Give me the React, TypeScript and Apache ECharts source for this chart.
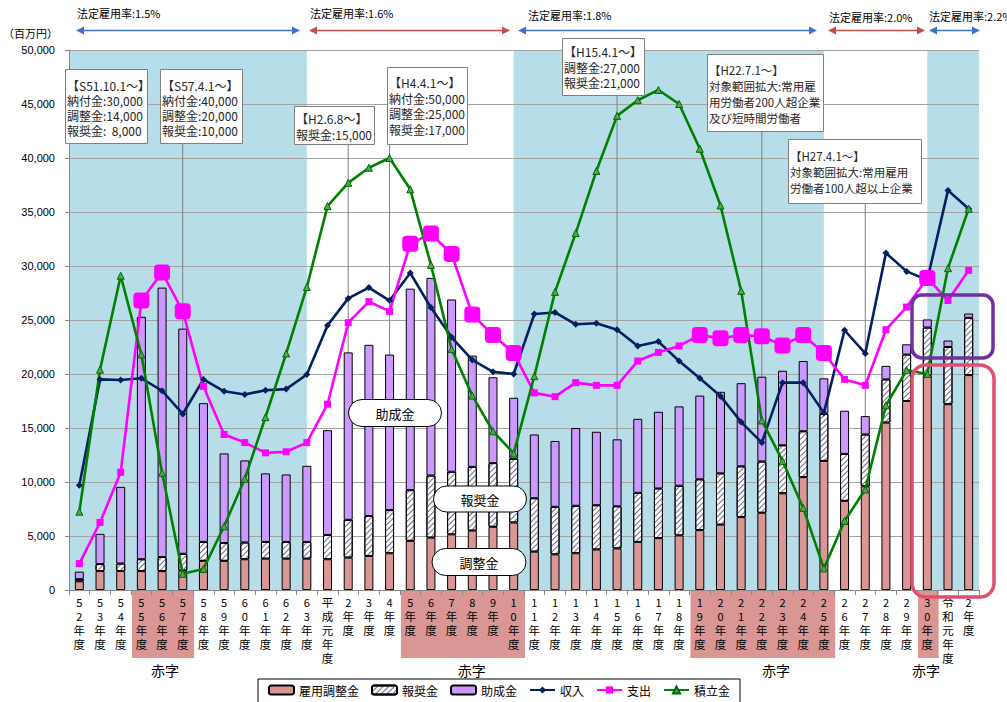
import React, { useEffect, useRef } from 'react';
import * as echarts from 'echarts';

// ---- data (百万円) ----
const categories = [
  '52年度', '53年度', '54年度', '55年度', '56年度', '57年度', '58年度', '59年度', '60年度', '61年度', '62年度', '63年度',
  '平成元年度', '2年度', '3年度', '4年度', '5年度', '6年度', '7年度', '8年度', '9年度', '10年度',
  '11年度', '12年度', '13年度', '14年度', '15年度', '16年度', '17年度', '18年度', '19年度', '20年度',
  '21年度', '22年度', '23年度', '24年度', '25年度', '26年度', '27年度', '28年度', '29年度', '30年度',
  '令和元年度', '2年度',
];

const adjustment = [
  800, 1750, 1750, 1750, 1750, 1800, 2700, 2700, 2850, 2900, 2900, 2900,
  2850, 3000, 3150, 3400, 4550, 4850, 5150, 5500, 5850, 6250,
  3550, 3300, 3400, 3750, 3850, 4450, 4800, 5050, 5550, 6050,
  6750, 7150, 8950, 10450, 11950, 8250, 9600, 15500, 17500, 19850,
  17200, 19900,
];
const reward = [
  200, 650, 700, 1100, 1300, 1550, 1750, 1650, 1550, 1550, 1550, 1550,
  2250, 3500, 3700, 4000, 4700, 5750, 5800, 5900, 5900, 5900,
  4950, 4400, 4400, 4100, 3900, 4550, 4600, 4600, 4700, 4750,
  4700, 4750, 4450, 4250, 4350, 4350, 4800, 4000, 4300, 4450,
  5300, 5300,
];
const subsidy = [
  700, 2800, 7100, 22450, 24950, 20850, 12850, 8300, 7600, 6350, 6250, 7050,
  9700, 15500, 15850, 14400, 18650, 18300, 15950, 10300, 7950, 5650,
  5900, 6100, 7200, 6800, 6200, 6850, 7100, 7350, 7750, 7550,
  7700, 7850, 6900, 6500, 3300, 4000, 1700, 1250, 950, 750,
  600, 400,
];
const income = [
  9700, 19500, 19450, 19600, 18450, 16300, 19500, 18400, 18100, 18500, 18600, 19950,
  24500, 27000, 28000, 26800, 29350, 26150, 23400, 21300, 20200, 20000,
  25550, 25700, 24600, 24700, 24100, 22600, 23000, 21200, 19600, 17950,
  15550, 13650, 19200, 19200, 16400, 24050, 21900, 31200, 29500, 28700,
  37000, 35300,
];
const expense = [
  2450, 6250, 10900, 26800, 29400, 25800, 18850, 14400, 13650, 12700, 12800, 13650,
  17200, 24750, 26700, 25800, 32050, 33000, 31100, 25500, 23600, 21950,
  18250, 17900, 19200, 18950, 18950, 21200, 22000, 22600, 23600, 23300,
  23600, 23500, 22650, 23600, 21950, 19500, 18950, 24100, 26200, 28900,
  26800, 29600,
];
const reserve = [
  7250, 20400, 29100, 21800, 10850, 1500, 1950, 5900, 10300, 16000, 21900, 28050,
  35550, 37700, 39100, 40000, 37100, 30100, 22300, 18000, 14700, 12650,
  19800, 27600, 33050, 38800, 43900, 45350, 46300, 45000, 40850, 35600,
  27700, 15700, 11950, 7600, 2000, 6400, 9300, 17100, 20350, 20000,
  29800, 35300,
];
// 赤字 years (category indexes)
const deficitIdx = [3, 4, 5, 16, 17, 18, 19, 20, 21, 30, 31, 32, 33, 34, 35, 36, 41];
const deficitGroups = [[3, 5], [16, 21], [30, 36], [41, 41]];
// 法定雇用率 periods (category index where the period ends/starts; null = axis edge)
const ratePeriods = [
  { label: '法定雇用率:1.5%', from: null, to: 11, shaded: true },
  { label: '法定雇用率:1.6%', from: 11, to: 21, shaded: false },
  { label: '法定雇用率:1.8%', from: 21, to: 36, shaded: true },
  { label: '法定雇用率:2.0%', from: 36, to: 41, shaded: false },
  { label: '法定雇用率:2.2%', from: 41, to: null, shaded: true },
];
const notes = [
  { at: null, lines: ['【S51.10.1～】', '納付金:30,000', '調整金:14,000', '報奨金:  8,000'] },
  { at: 5, lines: ['【S57.4.1～】', '納付金:40,000', '調整金:20,000', '報奨金:10,000'] },
  { at: 13, lines: ['【H2.6.8～】', '報奨金:15,000'] },
  { at: 15, lines: ['【H4.4.1～】', '納付金:50,000', '調整金:25,000', '報奨金:17,000'] },
  { at: 26, lines: ['【H15.4.1～】', '調整金:27,000', '報奨金:21,000'] },
  { at: 33, lines: ['【H22.7.1～】', '対象範囲拡大:常用雇', '用労働者200人超企業', '及び短時間労働者'] },
  { at: 38, lines: ['【H27.4.1～】', '対象範囲拡大:常用雇用', '労働者100人超以上企業'] },
];
// note box layout (pixels)
const noteBoxes = [
  { x: 65, y: 69, w: 82, h: 74, c0: 85, lh: 15.3, fs: 12 },
  { x: 160, y: 69, w: 82, h: 74, c0: 85, lh: 15.3, fs: 12 },
  { x: 294, y: 106, w: 80, h: 38, c0: 118.5, lh: 15.7, fs: 12 },
  { x: 387, y: 67, w: 80, h: 77, c0: 82.5, lh: 15.6, fs: 12 },
  { x: 562, y: 38, w: 82, h: 57, c0: 51.7, lh: 15.5, fs: 12 },
  { x: 707, y: 54, w: 116, h: 77, c0: 70, lh: 16.1, fs: 11.5 },
  { x: 788, y: 139, w: 133, h: 64, c0: 156, lh: 16, fs: 11.5 },
];

const FONT = '"Noto Sans CJK JP", "Noto Sans", sans-serif';
const GRID = { left: 69, right: 28, top: 50, bottom: 112 };

function labelFormatter(v: string) {
  return v
    .split('')
    .map((c) => (/[0-9]/.test(c) ? `{d|${c}}` : `{k|${c}}`))
    .join('\n');
}

export default function App() {
  const ref = useRef<HTMLDivElement>(null);
  useEffect(() => {
    document.body.style.margin = '0';
    const chart = echarts.init(ref.current!, null, { renderer: 'svg' });

    const markAreaData = ratePeriods
      .filter((p) => p.shaded)
      .map((p) => [p.from == null ? {} : { xAxis: p.from }, p.to == null ? {} : { xAxis: p.to }]);

    const option: any = {
      animation: false,
      textStyle: { fontFamily: FONT },
      grid: { ...GRID, outerBoundsMode: 'none' },
      legend: {
        top: 679,
        left: 258,
        padding: [5, 10, 12, 10],
        itemGap: 12,
        itemWidth: 25,
        itemHeight: 9,
        borderColor: '#000',
        borderWidth: 1,
        textStyle: { fontSize: 12, fontFamily: FONT, color: '#000' },
        data: ['雇用調整金', '報奨金', '助成金', '収入', '支出', '積立金'],
      },
      xAxis: {
        type: 'category',
        data: categories,
        z: 1,
        boundaryGap: true,
        axisLine: { lineStyle: { color: '#888', width: 1 } },
        axisTick: { show: true, length: 5, lineStyle: { color: '#888' } },
        axisLabel: {
          interval: 0,
          margin: 5,
          color: '#000',
          fontSize: 11.5,
          lineHeight: 14,
          formatter: labelFormatter,
          rich: {
            d: { fontSize: 11, lineHeight: 14, fontFamily: FONT, color: '#000' },
            k: { fontSize: 11.5, lineHeight: 14, fontFamily: FONT, color: '#000' },
          },
        },
        splitLine: { show: false },
      },
      yAxis: {
        type: 'value',
        min: 0,
        max: 50000,
        interval: 5000,
        z: 1,
        axisLine: { show: true, lineStyle: { color: '#888' } },
        axisTick: { show: true, length: 4, lineStyle: { color: '#888' } },
        axisLabel: { color: '#000', fontSize: 11, fontFamily: '"Liberation Sans", Arial, sans-serif', margin: 14 },
        splitLine: { show: true, lineStyle: { color: '#A3A3A3', width: 1 } },
      },
      series: [
        {
          name: '雇用調整金',
          type: 'bar',
          stack: 'a',
          barWidth: 9,
          data: adjustment,
          itemStyle: { color: '#D99694', borderColor: '#000', borderWidth: 1 },
        },
        {
          name: '報奨金',
          type: 'bar',
          stack: 'a',
          barWidth: 9,
          data: reward,
          itemStyle: {
            color: '#ffffff',
            borderColor: '#000',
            borderWidth: 1,
            decal: {
              symbol: 'rect',
              symbolSize: 1,
              color: '#6e6888',
              dashArrayX: [1, 0],
              dashArrayY: [1, 3],
              rotation: -Math.PI / 4,
            },
          },
        },
        {
          name: '助成金',
          type: 'bar',
          stack: 'a',
          barWidth: 9,
          data: subsidy,
          itemStyle: { color: '#CC99FF', borderColor: '#000', borderWidth: 1 },
        },
        {
          name: '収入',
          type: 'line',
          data: income,
          symbol: 'diamond',
          symbolSize: 7,
          itemStyle: { color: '#002060' },
          lineStyle: { color: '#002060', width: 2.6 },
          markArea: {
            silent: true,
            z: 0.5,
            itemStyle: { color: '#B7DDE8', borderWidth: 0 },
            data: markAreaData,
          },
        },
        {
          name: '支出',
          type: 'line',
          data: expense.map((v, i) =>
            deficitIdx.includes(i) ? { value: v, symbol: 'roundRect', symbolSize: 16 } : { value: v }
          ),
          symbol: 'rect',
          symbolSize: 7,
          itemStyle: { color: '#FF00FF' },
          lineStyle: { color: '#FF00FF', width: 2.6 },
        },
        {
          name: '積立金',
          type: 'line',
          data: reserve,
          symbol: 'triangle',
          symbolSize: 7,
          itemStyle: { color: '#4FA64F', borderColor: '#006A00', borderWidth: 1 },
          lineStyle: { color: '#008000', width: 2.6 },
        },
      ],
    };
    chart.setOption(option);

    const px = (i: number) => chart.convertToPixel({ xAxisIndex: 0 }, i) as number;
    const y0 = chart.convertToPixel({ yAxisIndex: 0 }, 0) as number;
    const plotL = GRID.left;
    const plotR = 1007 - GRID.right;
    const catW = (plotR - plotL) / categories.length;
    const graphics: any[] = [];

    // unit label
    graphics.push({
      type: 'text', x: 3, y: 33, silent: true,
      style: { text: '（百万円）', fontSize: 11, fontFamily: FONT, fill: '#000', verticalAlign: 'middle' },
    });

    // rate period arrows and labels
    const arrowSpec = [
      { x1: 76, x2: 300, ly: 12.7, lx: 77 },
      { x1: 309, x2: 510, ly: 13.3, lx: 310 },
      { x1: 518, x2: 817, ly: 14.7, lx: 528 },
      { x1: 828, x2: 925, ly: 17.3, lx: 829 },
      { x1: 929, x2: 980, ly: 16, lx: 929 },
    ];
    ratePeriods.forEach((p, k) => {
      const a = arrowSpec[k];
      const col = p.shaded ? '#4472C4' : '#C0504D';
      const ay = 30.5;
      graphics.push({
        type: 'line', silent: true, z: 5,
        shape: { x1: a.x1 + 6, y1: ay, x2: a.x2 - 6, y2: ay },
        style: { stroke: col, lineWidth: 1.5 },
      });
      graphics.push({
        type: 'polygon', silent: true, z: 5,
        shape: { points: [[a.x1, ay], [a.x1 + 8, ay - 4], [a.x1 + 8, ay + 4]] },
        style: { fill: col },
      });
      graphics.push({
        type: 'polygon', silent: true, z: 5,
        shape: { points: [[a.x2, ay], [a.x2 - 8, ay - 4], [a.x2 - 8, ay + 4]] },
        style: { fill: col },
      });
      graphics.push({
        type: 'text', x: a.lx, y: a.ly, silent: true, z: 5,
        style: { text: p.label, fontSize: 11, fontFamily: FONT, fill: '#000', verticalAlign: 'middle' },
      });
    });

    // deficit highlight under axis labels
    const deficitTextX = [165, 471.7, 776, 926];
    deficitGroups.forEach(([a, b], k) => {
      const left = px(a) - catW / 2 + 1;
      const right = px(b) + catW / 2 + 1;
      graphics.push({
        type: 'rect', silent: true, z: 0,
        shape: { x: left, y: y0 + 1, width: right - left, height: 67 },
        style: { fill: '#D99694' },
      });
      graphics.push({
        type: 'text', x: deficitTextX[k], y: 670, silent: true, z: 5,
        style: { text: '赤字', fontSize: 14, fontFamily: FONT, fill: '#000', align: 'center', verticalAlign: 'middle' },
      });
    });

    // note boxes + leader lines
    notes.forEach((n, k) => {
      const b = noteBoxes[k];
      if (n.at != null) {
        const lx = px(n.at);
        graphics.push({
          type: 'line', silent: true, z: 1.5,
          shape: { x1: lx, y1: b.y + b.h, x2: lx, y2: y0 },
          style: { stroke: '#7F7F7F', lineWidth: 1 },
        });
      }
      graphics.push({
        type: 'rect', silent: true, z: 10,
        shape: { x: b.x + 0.5, y: b.y + 0.5, width: b.w, height: b.h },
        style: { fill: '#fff', stroke: '#808080', lineWidth: 1 },
      });
      graphics.push({
        type: 'text', x: b.x + 2, y: b.c0 - b.lh / 2, silent: true, z: 11,
        style: {
          text: n.lines.join('\n'),
          fontSize: b.fs,
          fontFamily: FONT,
          lineHeight: b.lh,
          fill: '#262626',
          verticalAlign: 'top',
        },
      });
    });

    // component labels
    const pills = [
      { t: '助成金', cx: 395, cy: 413, w: 93, h: 27 },
      { t: '報奨金', cx: 480, cy: 499, w: 93, h: 26 },
      { t: '調整金', cx: 479, cy: 562, w: 94, h: 27 },
    ];
    pills.forEach((p) => {
      graphics.push({
        type: 'rect', silent: true, z: 12,
        shape: { x: p.cx - p.w / 2, y: p.cy - p.h / 2, width: p.w, height: p.h, r: p.h / 2 },
        style: { fill: '#fff', stroke: '#000', lineWidth: 1 },
      });
      graphics.push({
        type: 'text', x: p.cx, y: p.cy, silent: true, z: 13,
        style: { text: p.t, fontSize: 13, fontFamily: FONT, fill: '#000', align: 'center', verticalAlign: 'middle' },
      });
    });

    // emphasis outlines
    graphics.push({
      type: 'rect', silent: true, z: 12,
      shape: { x: 912, y: 295, width: 81, height: 63, r: 10 },
      style: { fill: 'none', stroke: '#7030A0', lineWidth: 3.5 },
    });
    graphics.push({
      type: 'rect', silent: true, z: 12,
      shape: { x: 912, y: 365, width: 82, height: 232, r: 14 },
      style: { fill: 'none', stroke: '#DF4F70', lineWidth: 3.5 },
    });

    chart.setOption({ graphic: graphics });

    return () => chart.dispose();
  }, []);
  return <div ref={ref} style={{ width: 1007, height: 702 }} />;
}
